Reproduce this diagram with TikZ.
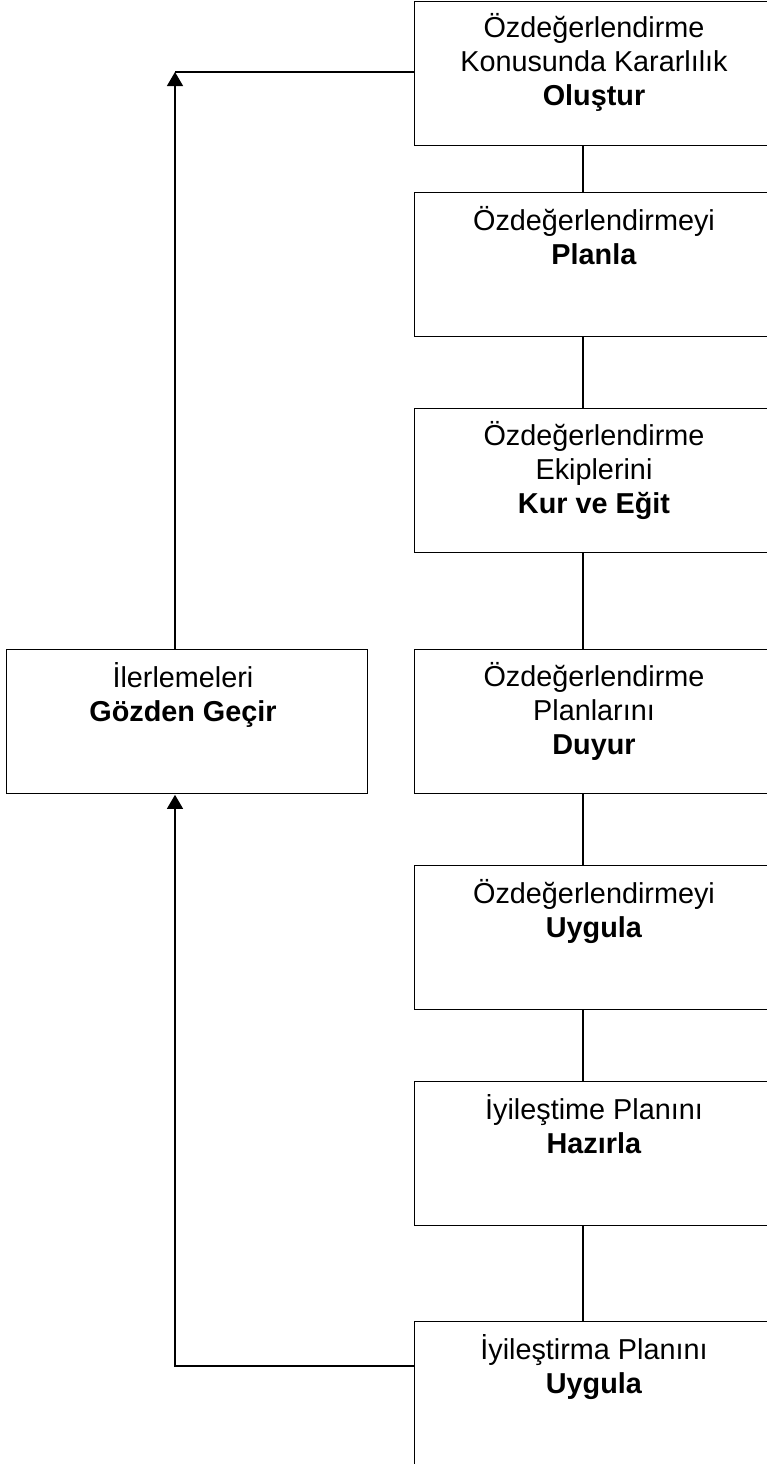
\documentclass[tikz,border=0pt]{standalone}
\usepackage{fontspec}
\setmainfont{Liberation Sans}
\usetikzlibrary{arrows.meta}

\tikzset{
  stepbox/.style={draw, line width=0.95pt, minimum width=267pt, minimum height=108pt,
    anchor=north west, inner sep=0pt},
  steptext/.style={align=center, font=\fontsize{21.6}{25.5}\selectfont, anchor=base, inner sep=0pt},
  flow/.style={line width=0.95pt},
  back/.style={line width=0.95pt, -{Triangle[width=12pt,length=10.5pt]}}
}

\begin{document}
\begin{tikzpicture}[x=0.75pt,y=-0.75pt]
	\useasboundingbox (0,0) rectangle (767,1464);
	% right column
	\node[stepbox] (s1) at (414,1) {};
	\node[stepbox] (s2) at (414,192) {};
	\node[stepbox] (s3) at (414,408) {};
	\node[stepbox] (s4) at (414,649) {};
	\node[stepbox] (s5) at (414,865) {};
	\node[stepbox] (s6) at (414,1081) {};
	\node[stepbox, minimum height=120pt] (s7) at (414,1321) {};
	% left box
	\node[stepbox, minimum width=270.75pt] (rev) at (6,649) {};

	% texts (base = last line)
	\node[steptext] (t1) at (594,105) {Özdeğerlendirme\\Konusunda Kararlılık\\\textbf{Oluştur}};
	\node[steptext] (t2) at (594,264) {Özdeğerlendirmeyi\\\textbf{Planla}};
	\node[steptext] (t3) at (594,513) {Özdeğerlendirme\\Ekiplerini\\\textbf{Kur ve Eğit}};
	\node[steptext] (t4) at (594,754) {Özdeğerlendirme\\Planlarını\\\textbf{Duyur}};
	\node[steptext] (t5) at (594,937) {Özdeğerlendirmeyi\\\textbf{Uygula}};
	\node[steptext] (t6) at (594,1153) {İyileştime Planını\\\textbf{Hazırla}};
	\node[steptext] (t7) at (594,1393) {İyileştirma Planını\\\textbf{Uygula}};
	\node[steptext] (t8) at (183,721) {İlerlemeleri\\\textbf{Gözden Geçir}};

	% links
	\coordinate (spine) at (583,0);
	\foreach \a/\b in {s1/s2,s2/s3,s3/s4,s4/s5,s5/s6,s6/s7}
		\draw[flow] (\a.south -| spine) -- (\b.north -| spine);

	\coordinate (turn) at (175,72);
	\draw[back] (rev.north -| turn) -- (turn);
	\draw[flow] (turn) -- (turn -| s1.west);
	\draw[back] ([yshift=-45pt*0.75]s7.north west) -| ([yshift=-0.4pt]rev.south -| turn);
\end{tikzpicture}
\end{document}
